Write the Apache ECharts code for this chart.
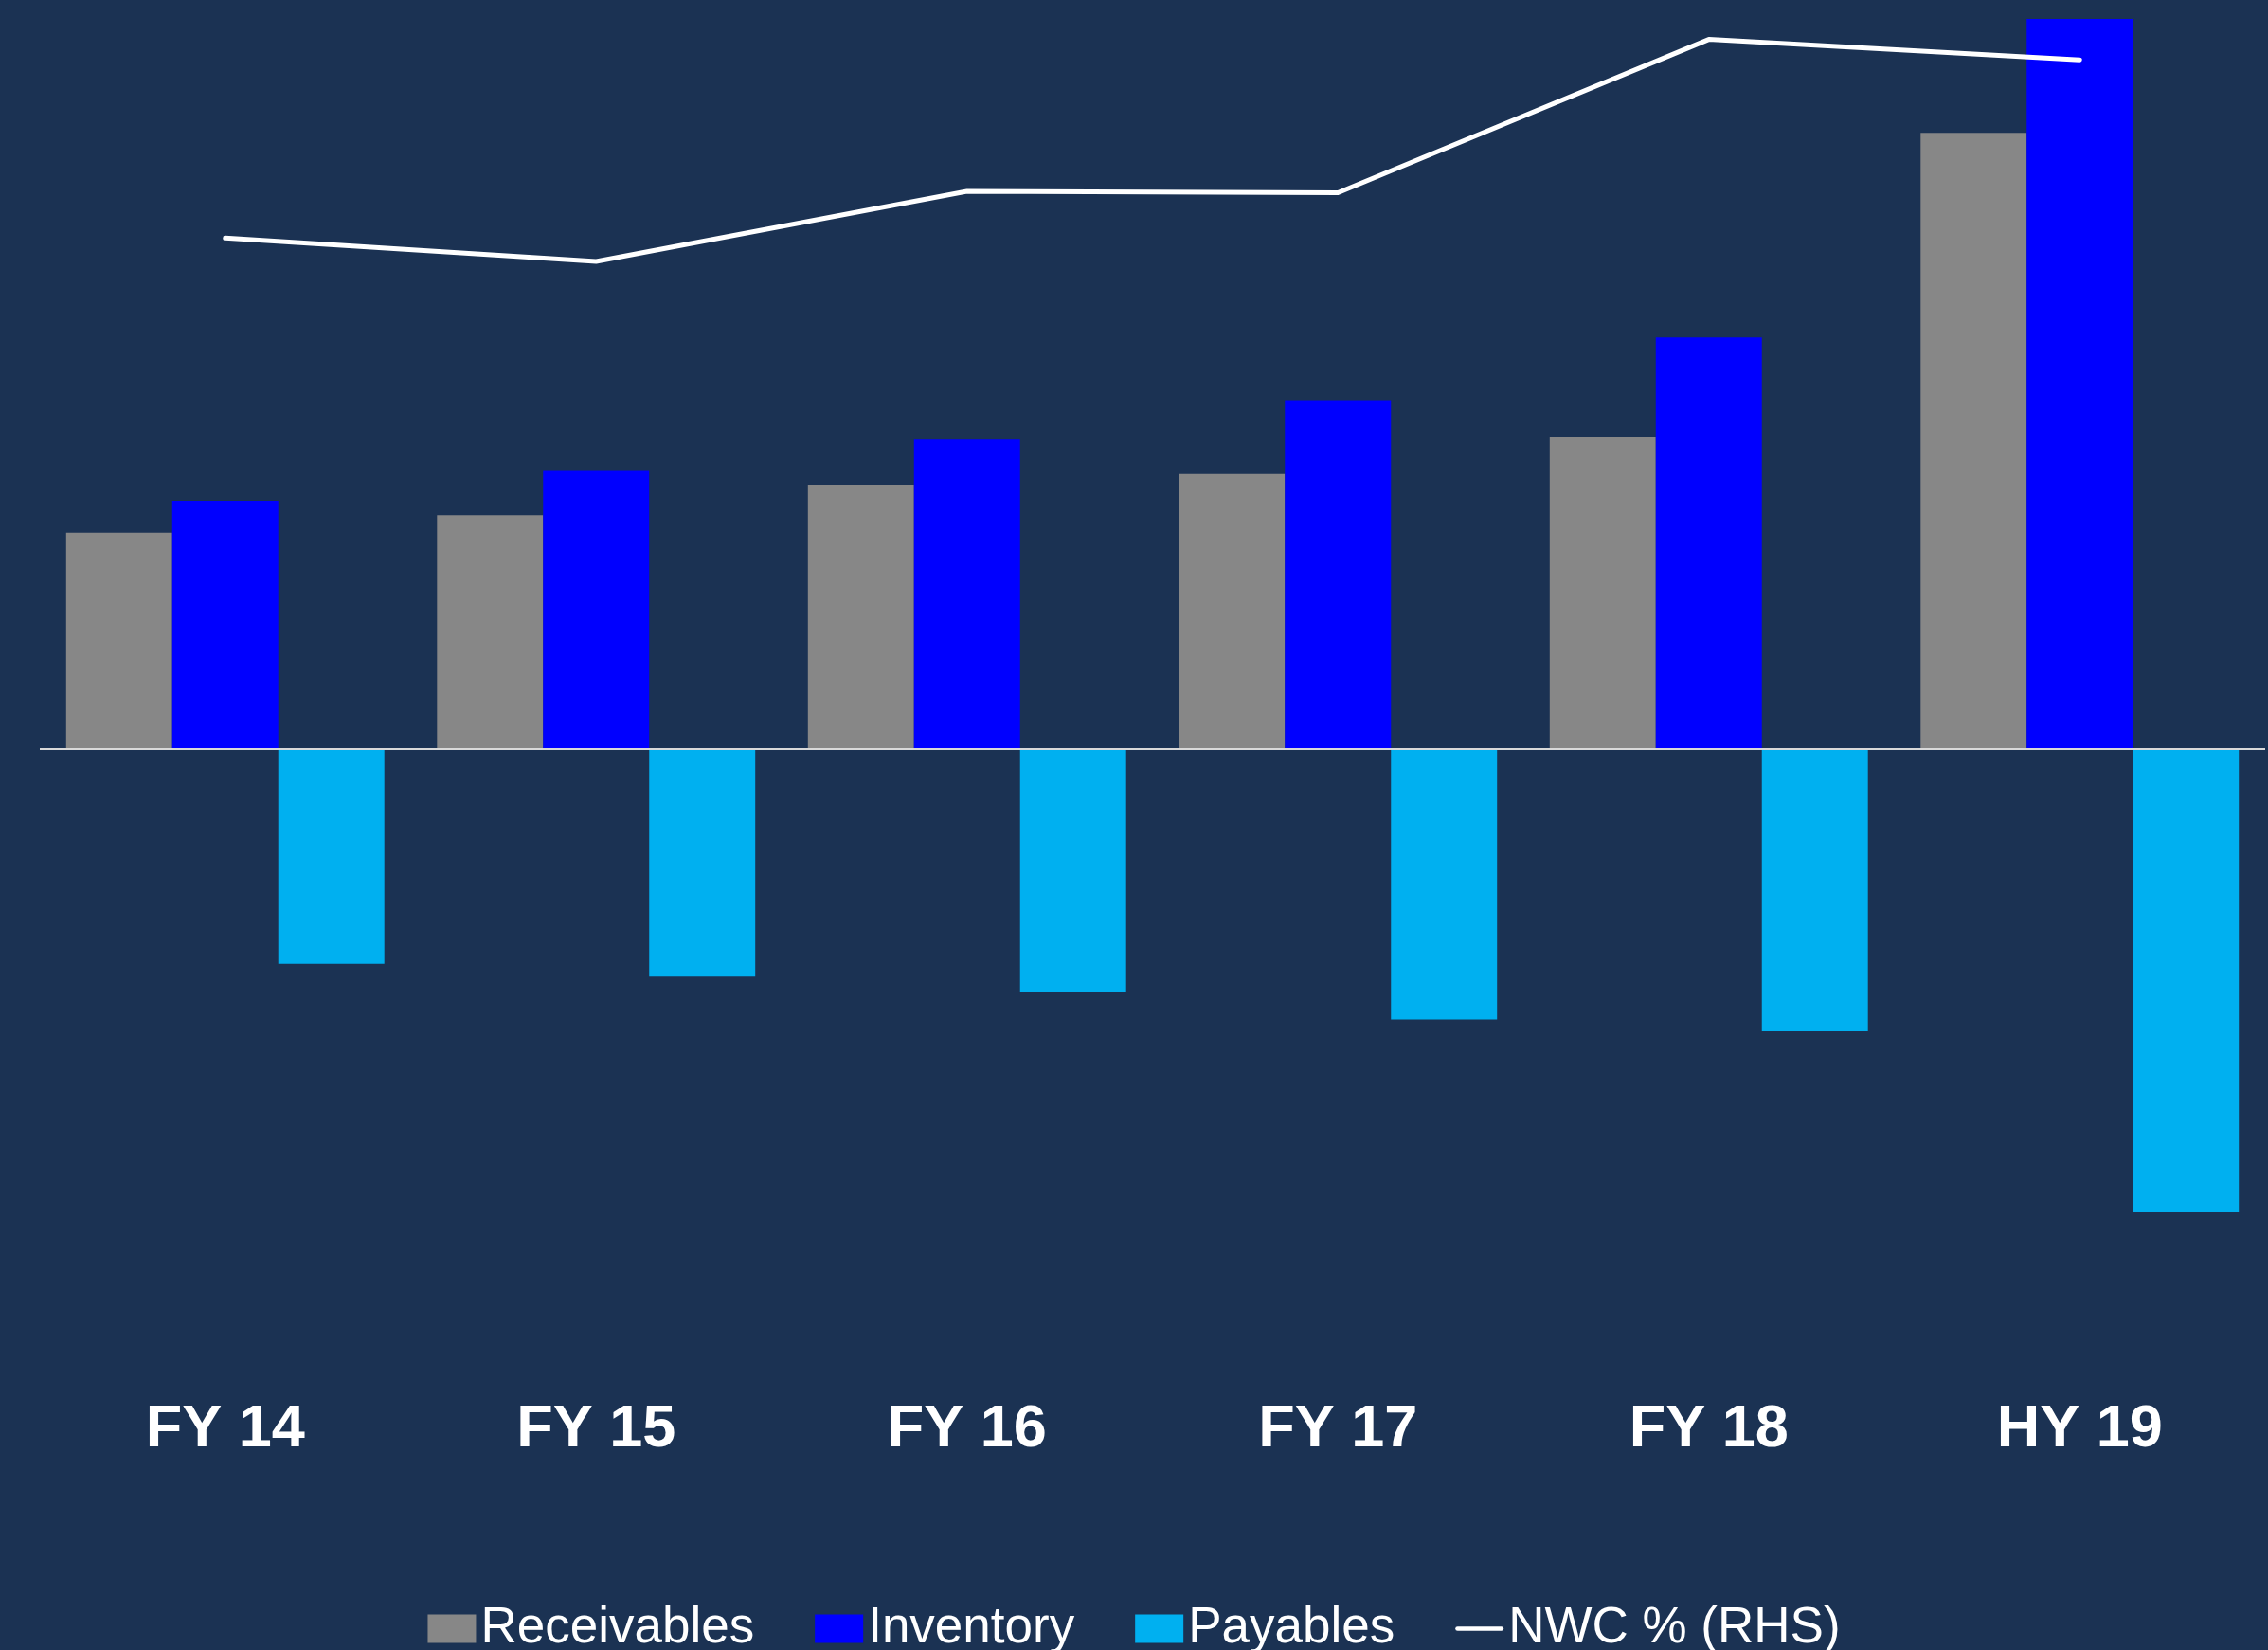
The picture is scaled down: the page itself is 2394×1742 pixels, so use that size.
<!DOCTYPE html>
<html>
<head>
<meta charset="utf-8">
<title>Working capital</title>
<script src="https://cdn.jsdelivr.net/npm/echarts@6/dist/echarts.min.js"></script>
<style>
  html, body { margin: 0; padding: 0; background: #1B3253; }
  #chart { width: 2394px; height: 1742px; }
</style>
</head>
<body>
<div id="chart"></div>
<script>
// Periods
const categories = ['FY 14', 'FY 15', 'FY 16', 'FY 17', 'FY 18', 'HY 19'];

// Working capital components (left axis)
const receivables = [148, 160, 181, 189, 214, 422];
const inventory   = [170, 191, 212, 239, 282, 500];
const payables    = [-147, -155, -166, -185, -193, -317];

// Net working capital as % (right axis)
const nwcPct = [35.0, 33.4, 38.2, 38.1, 48.6, 47.2];

const FONT = '"Liberation Sans", Arial, Helvetica, sans-serif';

// Thin rounded bar used as the legend marker of the line series
const LINE_ICON = 'path://M2.5,0H51.5A2.5,2.5,0,0,1,51.5,5H2.5A2.5,2.5,0,0,1,2.5,0Z';

const chart = echarts.init(document.getElementById('chart'), null, { renderer: 'canvas' });

chart.setOption({
  backgroundColor: '#1B3253',
  animation: false,
  grid: { left: 42, right: 3, top: 20, bottom: 334 },
  legend: {
    left: 'center',
    top: 1688,
    itemWidth: 51,
    itemHeight: 30,
    itemGap: 64,
    textStyle: { color: '#FFFFFF', fontSize: 53, fontFamily: FONT, lineHeight: 53 },
    data: [
      { name: 'Receivables', icon: 'rect' },
      { name: 'Inventory', icon: 'rect' },
      { name: 'Payables', icon: 'rect' },
      { name: 'NWC % (RHS)', icon: LINE_ICON, itemStyle: { color: '#FFFFFF' } }
    ]
  },
  xAxis: {
    type: 'category',
    data: categories,
    axisLine: { show: false, onZero: false },
    axisTick: { show: false },
    axisLabel: {
      color: '#FFFFFF',
      fontSize: 63,
      fontWeight: 'bold',
      fontFamily: FONT,
      margin: 70,
      lineHeight: 63
    },
    splitLine: { show: false }
  },
  yAxis: [
    {
      type: 'value',
      min: -400,
      max: 500,
      interval: 100,
      show: false,
      splitLine: { show: false }
    },
    {
      type: 'value',
      min: -40,
      max: 50,
      interval: 10,
      show: false,
      splitLine: { show: false }
    }
  ],
  series: [
    {
      name: 'Receivables',
      type: 'bar',
      data: receivables,
      barGap: '0%',
      barCategoryGap: '14.2%',
      itemStyle: { color: '#878787' },
      markLine: {
        silent: true,
        symbol: 'none',
        label: { show: false },
        lineStyle: { color: '#D9D9D9', width: 2, type: 'solid' },
        data: [{ yAxis: 0 }]
      }
    },
    {
      name: 'Inventory',
      type: 'bar',
      data: inventory,
      barGap: '0%',
      barCategoryGap: '14.2%',
      itemStyle: { color: '#0000FF' }
    },
    {
      name: 'Payables',
      type: 'bar',
      data: payables,
      barGap: '0%',
      barCategoryGap: '14.2%',
      itemStyle: { color: '#00B0F0' }
    },
    {
      name: 'NWC % (RHS)',
      type: 'line',
      yAxisIndex: 1,
      data: nwcPct,
      symbol: 'none',
      z: 5,
      itemStyle: { color: '#FFFFFF' },
      lineStyle: { color: '#FFFFFF', width: 5, cap: 'round', join: 'round' }
    }
  ]
});
</script>
</body>
</html>
